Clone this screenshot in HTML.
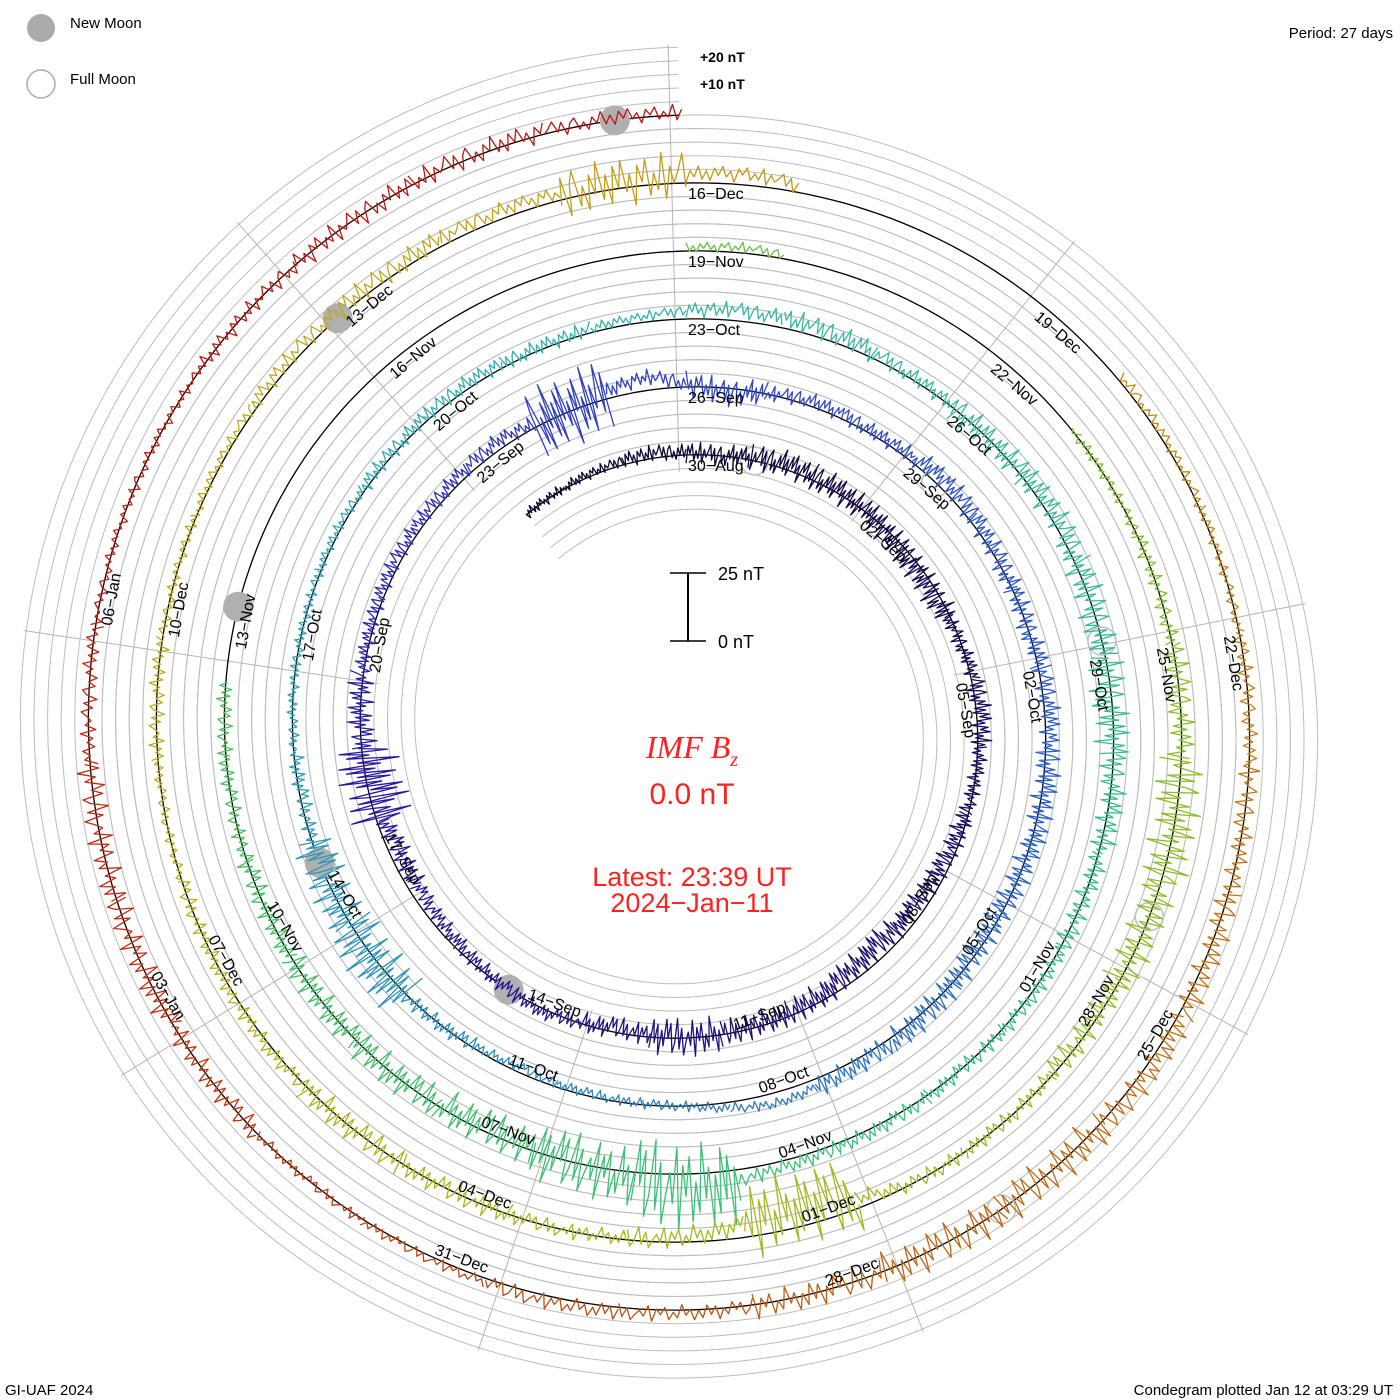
<!DOCTYPE html>
<html><head><meta charset="utf-8">
<style>
html,body{margin:0;padding:0;background:#fff;}
svg{display:block;font-family:"Liberation Sans",sans-serif;}
</style></head>
<body>
<svg id="chart" width="1400" height="1400" viewBox="0 0 1400 1400" xmlns="http://www.w3.org/2000/svg">
  <rect width="1400" height="1400" fill="#fff"/>
  <g id="rings"></g>
  <g id="spokes"></g>
  <g id="baseline"></g>
  <g id="moons"></g>
  <g id="traces"></g>
  <g id="labels"></g>

  <g>
    <circle cx="41" cy="28" r="14" fill="#aaaaaa"/>
    <text x="70" y="28" font-size="15" fill="#000">New Moon</text>
    <circle cx="41" cy="84" r="14" fill="none" stroke="#aaaaaa" stroke-width="1.5"/>
    <text x="70" y="84" font-size="15" fill="#000">Full Moon</text>
  </g>
  <text x="1393" y="38" font-size="15" text-anchor="end">Period: 27 days</text>
  <text x="700" y="62" font-size="14" font-weight="bold">+20 nT</text>
  <text x="700" y="89" font-size="14" font-weight="bold">+10 nT</text>

  <g>
    <line x1="688" y1="573" x2="688" y2="641" stroke="#000" stroke-width="2"/>
    <line x1="670" y1="573" x2="706" y2="573" stroke="#000" stroke-width="1.5"/>
    <line x1="670" y1="641" x2="706" y2="641" stroke="#000" stroke-width="1.5"/>
    <text x="718" y="580" font-size="18">25 nT</text>
    <text x="718" y="648" font-size="18">0 nT</text>
  </g>

  <text x="692" y="758" font-size="32" fill="#ff2020" text-anchor="middle" font-family="Liberation Serif, serif" font-style="italic">IMF B<tspan font-size="20" dy="8">z</tspan></text>
  <text x="692" y="804" font-size="30" fill="#ff2020" text-anchor="middle">0.0 nT</text>
  <text x="692" y="886" font-size="27" fill="#ff2020" text-anchor="middle">Latest: 23:39 UT</text>
  <text x="692" y="912" font-size="27" fill="#ff2020" text-anchor="middle">2024−Jan−11</text>

  <text x="5" y="1395" font-size="15">GI-UAF 2024</text>
  <text x="1393" y="1395" font-size="15" text-anchor="end">Condegram plotted Jan 12 at 03:29 UT</text>
</svg>
<script>
// ---- data (index 0 = 27-Aug-2023, i.e. t = index - 3 days from 30-Aug) ----
const dailyMean = [
 0,1,2,0,2,1,-1,-2,0,2,        // t -3..6
 0,-2,-4,-5,-2,-1,0,-2,1,-1,   // t 7..16
 -3,-4,-2,0,1,2,2,3,0,5,       // t 17..26
 -2,2,1,3,1,0,2,1,0,-1,        // t 27..36
 1,2,4,0,-1,-2,0,1,0,-1,       // t 37..46
 0,0,1,1,2,1,2,4,3,1,          // t 47..56
 0,2,0,-1,1,0,1,0,1,2,         // t 57..66
 5,0,-2,0,0,0,0,0,0,0,         // t 67..76
 0,0,0,0,2,0,0,0,0,0,          // t 77..86
 0,0,0,-1,0,0,-8,-2,0,0,       // t 87..96
 0,1,0,0,0,0,1,2,2,3,          // t 97..106
 2,4,0,0,2,1,0,0,0,1,          // t 107..116
 2,0,0,0,1,2,1,0,0,0,          // t 117..126
 0,0,0,0,0,0,1,1               // t 127..134
];
const dailySpread = [
 2,2,3,4,5,5,5,5,3,4,
 3,4,4,5,5,5,7,4,3,3,
 3,4,12,5,3,3,3,3,13,3,
 5,3,3,4,4,4,4,5,5,5,
 5,4,2,2,2,2,3,10,8,3,
 2,2,2,3,3,3,2,3,4,3,
 5,5,6,7,5,4,3,3,3,3,
 16,11,7,6,5,4,3,3,2,2,
 2,2,2,2,2,2,2,2,2,3,
 5,9,7,5,3,3,14,4,3,4,
 5,3,3,2,3,2,2,3,4,3,
 9,3,2,2,2,2,2,3,4,5,
 5,7,7,5,3,3,2,2,4,5,
 5,3,2,2,3,4,4,3
];
const dataGaps = [[74.7,81],[81.9,84.9],[108.9,111.8]];
const dataStart = -2.75, dataEnd = 134.98;
const newMoonDays = [16.07, 45.75, 75.4, 104.98, 134.5];
const fullMoonDays = [1.07, 30.4, 59.85, 89.4, 119.0];
const labelDays = [];
for (let d = 0; d <= 129; d += 3) labelDays.push(d);

// ---- geometry ----
const CX = 686, CY = 729.5, R0 = 274.5, TURN = 68, NT = 2.72, PERIOD = 27;
function rad(t){ return t / PERIOD * 2 * Math.PI; }
function radiusAt(t, v){ return R0 + TURN * t / PERIOD + v * NT; }
function px(t, v){ const a = rad(t), r = radiusAt(t, v); return [CX + r * Math.sin(a), CY - r * Math.cos(a)]; }
const NS = "http://www.w3.org/2000/svg";
function mk(tag, attrs, parent){ const e = document.createElementNS(NS, tag); for (const k in attrs) e.setAttribute(k, attrs[k]); parent.appendChild(e); return e; }

// rings
const ringsG = document.getElementById('rings');
for (let j = -4; j <= 5; j++) {
  let d = '';
  for (let t = dataStart; t <= dataEnd + 0.001; t += 0.1) {
    const p = px(Math.min(t, dataEnd), j * 5);
    d += (d ? 'L' : 'M') + p[0].toFixed(1) + ' ' + p[1].toFixed(1);
  }
  const ring = mk('path', {d: d, fill: 'none', stroke: '#bdbdbd', 'stroke-width': 1}, ringsG);
  
  
}
// spokes
const spokesG = document.getElementById('spokes');
for (let k = 0; k < 9; k++) {
  const ang = k * 40 - 1.5;
  let tIn = ang / 360 * PERIOD; if (tIn < dataStart) tIn += PERIOD;
  let tOut = tIn; while (tOut + PERIOD <= dataEnd) tOut += PERIOD;
  const a = ang * Math.PI / 180;
  const r1 = radiusAt(tIn, -6), r2 = radiusAt(tOut, 26);
  const sp = mk('line', {x1: CX + r1 * Math.sin(a), y1: CY - r1 * Math.cos(a), x2: CX + r2 * Math.sin(a), y2: CY - r2 * Math.cos(a), stroke: '#b5b5b5', 'stroke-width': 1}, spokesG);
  
  
}
// baseline
const baseG = document.getElementById('baseline');
(function(){
  let d = '';
  for (let t = dataStart; t <= dataEnd + 0.001; t += 0.1) {
    const p = px(Math.min(t, dataEnd), 0);
    d += (d ? 'L' : 'M') + p[0].toFixed(1) + ' ' + p[1].toFixed(1);
  }
  const b = mk('path', {d: d, fill: 'none', stroke: '#000', 'stroke-width': 1.3}, baseG);
  
  
})();
// moons
const moonsG = document.getElementById('moons');
newMoonDays.forEach(t => {
  const p = px(t, 0);
  const c = mk('circle', {cx: p[0], cy: p[1], r: 15, fill: '#b0b0b0'}, moonsG);
  
  
});
fullMoonDays.forEach(t => {
  const p = px(t, 0);
  const c = mk('circle', {cx: p[0], cy: p[1], r: 14, fill: 'none', stroke: '#c0c0c0', 'stroke-width': 1.5}, moonsG);
  
  
});

// colours along time
const colorStops = [[-3,[15,5,40]],[10,[28,12,110]],[20,[40,26,160]],[26,[48,64,200]],[35,[42,96,200]],[42,[42,136,192]],[50,[48,168,184]],[56,[56,184,160]],[65,[56,192,128]],[72,[64,192,96]],[86,[128,192,48]],[95,[168,184,24]],[105,[192,168,24]],[112,[200,136,24]],[120,[192,96,16]],[126,[192,48,16]],[135,[192,16,16]]];
function colorAt(t){
  for (let i = 0; i < colorStops.length - 1; i++) {
    const a = colorStops[i], b = colorStops[i+1];
    if (t <= b[0]) { const f = Math.max(0, (t - a[0]) / (b[0] - a[0])); const c = a[1].map((v, k) => Math.round(v + (b[1][k] - v) * f)); return 'rgb(' + c.join(',') + ')'; }
  }
  return 'rgb(192,16,16)';
}
function inGap(t){ return dataGaps.some(g => t > g[0] && t < g[1]); }
const pattern = [0.2,0.9,-0.5,0.6,-1,0.3,0.8,-0.7,0.1,-0.9,0.5,-0.3,1,-0.6,0.4,-0.8,0.7,-0.2,0.9,-0.4,0.3,-1,0.6,-0.1,0.8,-0.7,0.2,-0.5,1,-0.9,0.4,-0.3];
function meanAt(t){
  const x = t + 3 - 0.5; const i = Math.floor(x), f = x - i;
  const n = dailyMean.length - 1;
  const a = dailyMean[Math.max(0, Math.min(n, i))], b = dailyMean[Math.max(0, Math.min(n, i + 1))];
  return a + (b - a) * f;
}
function spreadAt(t){ const i = Math.max(0, Math.min(dailySpread.length - 1, Math.floor(t + 3))); return dailySpread[i]; }

const tracesG = document.getElementById('traces');
const SUB = 32;
for (let day = 0; day < dailyMean.length; day++) {
  const t0 = day - 3;
  let d = '', pen = false;
  for (let k = 0; k <= SUB; k++) {
    const t = t0 + k / SUB;
    if (t < dataStart || t > dataEnd || inGap(t)) { pen = false; continue; }
    const v = meanAt(t) + spreadAt(Math.min(t, t0 + 0.999)) * pattern[(day * 7 + k) % pattern.length];
    const p = px(t, v);
    d += (pen ? 'L' : 'M') + p[0].toFixed(1) + ' ' + p[1].toFixed(1);
    pen = true;
  }
  if (!d) continue;
  const path = mk('path', {d: d, fill: 'none', stroke: colorAt(t0 + 0.5), 'stroke-width': 1.3, 'stroke-linejoin': 'round'}, tracesG);
  
  
}

// date labels
const labelsG = document.getElementById('labels');
const MONTHS = ['Jan','Feb','Mar','Apr','May','Jun','Jul','Aug','Sep','Oct','Nov','Dec'];
labelDays.forEach(t => {
  const dt = new Date(Date.UTC(2023, 7, 30 + t));
  const txt = String(dt.getUTCDate()).padStart(2, '0') + '−' + MONTHS[dt.getUTCMonth()];
  const p = px(t, 0);
  const deg = (t % PERIOD) / PERIOD * 360;
  const flip = deg > 90 && deg < 270;
  const rot = flip ? deg - 180 : deg;
  const el = mk('text', {x: 0, y: 0, 'font-size': 16, fill: '#000',
    'text-anchor': flip ? 'end' : 'start',
    transform: 'translate(' + p[0].toFixed(1) + ',' + p[1].toFixed(1) + ') rotate(' + rot.toFixed(2) + ') translate(' + (flip ? -2 : 2) + ',' + (flip ? -5 : 16) + ')'}, labelsG);
  el.textContent = txt;
  
  
});
</script>
</body></html>
